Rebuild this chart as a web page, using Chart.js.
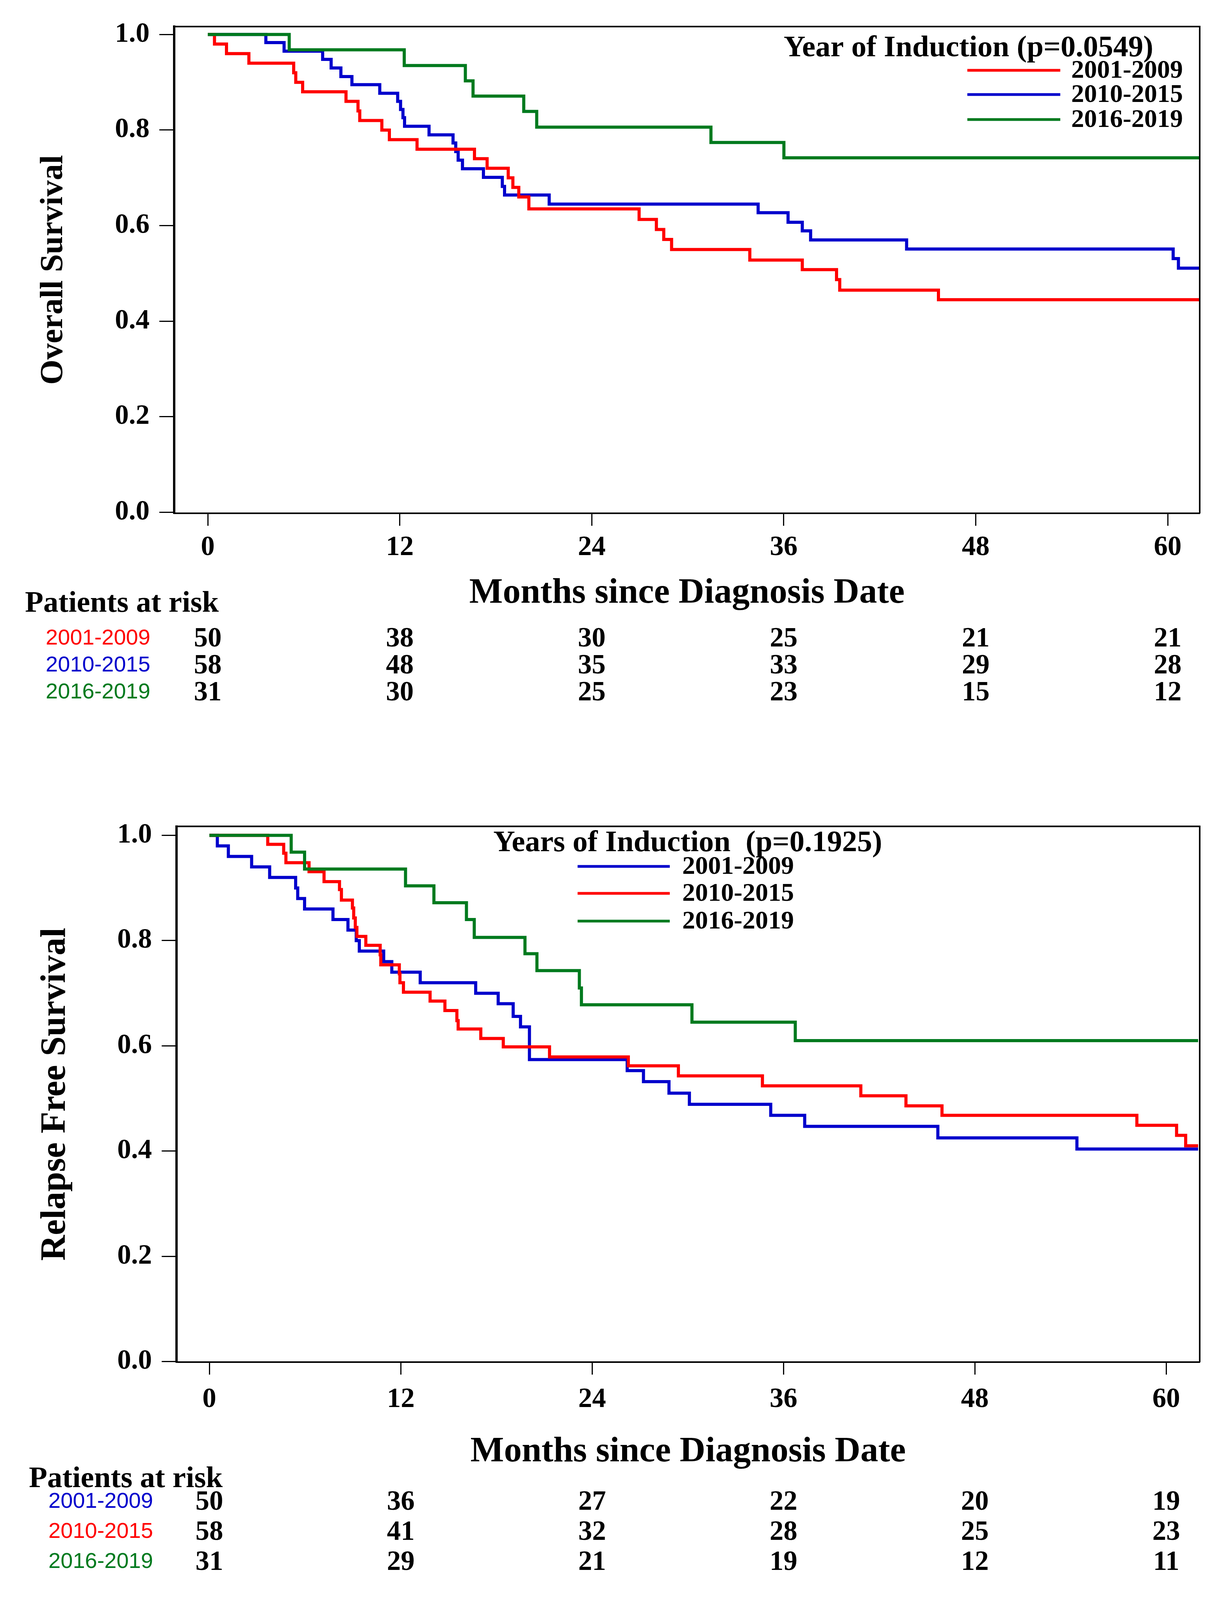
<!DOCTYPE html>
<html>
<head>
<meta charset="utf-8">
<title>Survival by year of induction</title>
<script src="https://cdn.jsdelivr.net/npm/chart.js@4.4.1/dist/chart.umd.min.js"></script>
<style>
  html, body { margin: 0; padding: 0; background: #fff; }
  body { width: 3147px; position: relative; overflow: hidden; }
  canvas { position: absolute; left: 0; }
</style>
</head>
<body>
<canvas id="osChart"></canvas>
<canvas id="rfsChart"></canvas>
<script>
const groups = ['2001-2009', '2010-2015', '2016-2019'];
const xTicks = [0, 12, 24, 36, 48, 60];
const yTicks = [0, 0.2, 0.4, 0.6, 0.8, 1.0];
const riskTimes = [0, 12, 24, 36, 48, 60];

// overall survival (months, survival after the drop)
const osMonths2001 = [0, 0.42, 1.17, 2.57, 5.37, 5.5, 5.93, 8.64, 9.39, 9.5, 10.88, 11.35, 13.08, 16.67, 17.46, 18.78, 19.07, 19.44, 20.07, 26.96, 28.04, 28.5, 28.99, 33.88, 37.16, 39.3, 39.5, 45.67, 62];
const osSurv2001 = [1, 0.98, 0.96, 0.94, 0.92, 0.90, 0.88, 0.86, 0.84, 0.82, 0.80, 0.78, 0.76, 0.74, 0.72, 0.70, 0.68, 0.66, 0.635, 0.613, 0.592, 0.571, 0.550, 0.528, 0.508, 0.487, 0.465, 0.445, 0.445];
const osMonths2010 = [0, 3.63, 4.77, 7.18, 7.71, 8.32, 9.01, 10.75, 11.87, 12.05, 12.2, 12.3, 13.83, 15.33, 15.5, 15.65, 15.92, 17.23, 18.41, 18.55, 21.34, 34.4, 36.27, 37.16, 37.68, 43.68, 60.34, 60.67, 62];
const osSurv2010 = [1, 0.983, 0.965, 0.948, 0.930, 0.912, 0.895, 0.877, 0.860, 0.843, 0.826, 0.808, 0.790, 0.773, 0.755, 0.737, 0.719, 0.701, 0.682, 0.664, 0.645, 0.627, 0.607, 0.589, 0.570, 0.551, 0.531, 0.511, 0.511];
const osMonths2016 = [0, 5.09, 12.28, 16.1, 16.58, 19.75, 20.56, 31.45, 36.01, 62];
const osSurv2016 = [1, 0.968, 0.935, 0.903, 0.871, 0.839, 0.806, 0.774, 0.742, 0.742];

// relapse free survival
const rfsMonths2001 = [0, 0.5, 1.19, 2.65, 3.78, 5.41, 5.54, 5.97, 7.75, 8.69, 9.21, 9.4, 10.93, 11.44, 13.22, 16.7, 18.11, 19.05, 19.51, 20.07, 26.2, 27.22, 28.82, 30.1, 35.2, 37.33, 45.68, 54.4, 62];
const rfsSurv2001 = [1, 0.98, 0.96, 0.94, 0.92, 0.90, 0.88, 0.86, 0.84, 0.82, 0.80, 0.78, 0.76, 0.74, 0.72, 0.70, 0.68, 0.656, 0.636, 0.574, 0.553, 0.532, 0.510, 0.489, 0.468, 0.447, 0.425, 0.404, 0.404];
const rfsMonths2010 = [0, 3.66, 4.66, 4.8, 6.25, 7.19, 8.16, 8.28, 8.97, 9.05, 9.15, 9.25, 9.81, 10.71, 10.75, 11.91, 11.95, 12.17, 13.84, 14.77, 15.52, 15.6, 17.02, 18.43, 21.33, 26.27, 29.41, 34.68, 40.85, 43.68, 45.94, 58.16, 60.65, 61.22, 62];
const rfsSurv2010 = [1, 0.983, 0.966, 0.948, 0.931, 0.912, 0.897, 0.877, 0.862, 0.843, 0.825, 0.808, 0.791, 0.773, 0.754, 0.737, 0.72, 0.702, 0.685, 0.667, 0.648, 0.632, 0.614, 0.598, 0.579, 0.562, 0.543, 0.524, 0.505, 0.486, 0.468, 0.449, 0.430, 0.410, 0.410];
const rfsMonths2016 = [0, 5.13, 5.97, 12.3, 14.08, 16.12, 16.61, 19.79, 20.54, 23.2, 23.33, 30.26, 36.74, 62];
const rfsSurv2016 = [1, 0.968, 0.936, 0.904, 0.872, 0.840, 0.806, 0.775, 0.743, 0.710, 0.678, 0.645, 0.610, 0.610];

// patients at risk at 0, 12, 24, 36, 48, 60 months
const osRisk2001 = [50, 38, 30, 25, 21, 21];
const osRisk2010 = [58, 48, 35, 33, 29, 28];
const osRisk2016 = [31, 30, 25, 23, 15, 12];
const rfsRisk2001 = [50, 36, 27, 22, 20, 19];
const rfsRisk2010 = [58, 41, 32, 28, 25, 23];
const rfsRisk2016 = [31, 29, 21, 19, 12, 11];

const RED = '#ff0000';
const BLUE = '#0000cc';
const GREEN = '#007a1e';
const SERIF = '"Liberation Serif", "Times New Roman", serif';
const SANS = '"Liberation Sans", Arial, sans-serif';

// the figure is laid out for 4639px of height; squeeze it vertically
// if the window is shorter so the whole page stays in view
const PAGE_H = 4639;
const ky = Math.min(1, (window.innerHeight || PAGE_H) / PAGE_H);
const kf = 1 - (1 - ky) * 0.3;
const Y = (v) => Math.round(v * ky);
const F = (s) => Math.round(s * kf);

function toPoints(months, surv) {
  return months.map((m, i) => ({ x: m, y: surv[i] }));
}

function stepLine(label, months, surv, color, order) {
  return {
    label: label,
    data: toPoints(months, surv),
    borderColor: color,
    backgroundColor: color,
    borderWidth: 8,
    stepped: 'before',
    pointRadius: 0,
    fill: false,
    order: order,
  };
}

// frame, legend, x title and the at-risk table
const kmExtras = {
  id: 'kmExtras',
  afterDraw(chart, args, o) {
    const ctx = chart.ctx;
    const a = chart.chartArea;
    const x = chart.scales.x;
    ctx.save();

    ctx.strokeStyle = '#000';
    ctx.lineWidth = 4;
    ctx.beginPath();
    ctx.moveTo(a.left, a.top);
    ctx.lineTo(a.right, a.top);
    ctx.lineTo(a.right, a.bottom);
    ctx.stroke();

    // legend
    ctx.fillStyle = '#000';
    ctx.textAlign = 'center';
    ctx.textBaseline = 'alphabetic';
    ctx.font = 'bold ' + F(80) + 'px ' + SERIF;
    ctx.fillText(o.legendTitle, o.legendTitleX, Y(o.legendTitleY));
    ctx.textAlign = 'left';
    ctx.font = 'bold ' + F(68) + 'px ' + SERIF;
    ctx.textBaseline = 'middle';
    chart.data.datasets.forEach((ds, i) => {
      const y = Y(o.legendRowsY[i]);
      ctx.strokeStyle = ds.borderColor;
      ctx.lineWidth = 7;
      ctx.beginPath();
      ctx.moveTo(o.legendLineX[0], y);
      ctx.lineTo(o.legendLineX[1], y);
      ctx.stroke();
      ctx.fillText(ds.label, o.legendTextX, y + 2);
    });

    // x axis title
    ctx.textAlign = 'center';
    ctx.textBaseline = 'alphabetic';
    ctx.font = 'bold ' + F(94) + 'px ' + SERIF;
    ctx.fillText('Months since Diagnosis Date', (a.left + a.right) / 2, Y(o.xTitleY));

    // patients at risk
    ctx.textAlign = 'left';
    ctx.font = 'bold ' + F(80) + 'px ' + SERIF;
    ctx.fillText('Patients at risk', o.riskTitleX, Y(o.riskTitleY));
    ctx.textBaseline = 'middle';
    chart.data.datasets.forEach((ds, i) => {
      const y = Y(o.riskRowsY[i]);
      ctx.textAlign = 'center';
      ctx.fillStyle = ds.borderColor;
      ctx.font = F(58) + 'px ' + SANS;
      ctx.fillText(ds.label, o.riskLabelX, y);
      ctx.fillStyle = '#000';
      ctx.font = 'bold ' + F(74) + 'px ' + SERIF;
      o.risk[i].forEach((n, j) => {
        ctx.fillText(String(n), x.getPixelForValue(riskTimes[j]), y + 2);
      });
    });
    ctx.restore();
  }
};

function renderChart(canvasId, pageTop, pageBottom, datasets, yTitle, c) {
  const canvas = document.getElementById(canvasId);
  const h = Y(pageBottom) - Y(pageTop);
  canvas.width = 3147;
  canvas.height = h;
  canvas.style.top = Y(pageTop) + 'px';

  const tickFont = F(74);
  const titleFont = F(c.yTitleSize);
  const xTickLen = Y(36);
  // centre of the x tick labels sits c.xLabelOffset below the axis
  const xTickPad = Math.round(Y(c.xLabelOffset) - xTickLen - tickFont * 0.6 + 2);

  return new Chart(canvas, {
    type: 'line',
    data: { datasets: datasets },
    plugins: [kmExtras],
    options: {
      responsive: false,
      animation: false,
      devicePixelRatio: 1,
      layout: { padding: { left: 0, top: Y(c.top), right: 3147 - c.right, bottom: 0 } },
      plugins: {
        legend: { display: false },
        tooltip: { enabled: false },
        kmExtras: c.extras,
      },
      scales: {
        x: {
          type: 'linear',
          min: c.xMin,
          max: c.xMax,
          afterFit: (s) => { s.height = h - Y(c.bottom); },
          afterBuildTicks: (s) => { s.ticks = xTicks.map(v => ({ value: v })); },
          ticks: {
            autoSkip: false,
            maxRotation: 0,
            padding: xTickPad,
            color: '#000',
            font: { family: SERIF, size: tickFont, weight: 'bold' },
          },
          grid: { drawOnChartArea: false, drawTicks: true, tickLength: xTickLen, tickWidth: 3, tickColor: '#000' },
          border: { display: true, color: '#000', width: 4 },
        },
        y: {
          type: 'linear',
          min: c.yMin,
          max: c.yMax,
          afterFit: (s) => { s.width = c.left; },
          afterBuildTicks: (s) => { s.ticks = yTicks.map(v => ({ value: v })); },
          ticks: {
            padding: 25,
            color: '#000',
            font: { family: SERIF, size: tickFont, weight: 'bold' },
            callback: (v) => Number(v).toFixed(1),
          },
          grid: { drawOnChartArea: false, drawTicks: true, tickLength: 38, tickWidth: 3, tickColor: '#000' },
          border: { display: true, color: '#000', width: 6 },
          title: {
            display: true,
            text: yTitle,
            color: '#000',
            font: { family: SERIF, size: titleFont, weight: 'bold' },
            padding: { top: Math.round(c.yTitleX - titleFont * 0.6), bottom: 0 },
          },
        },
      },
    },
  });
}

document.body.style.height = Y(PAGE_H) + 'px';

renderChart('osChart', 0, 2320, [
  stepLine(groups[0], osMonths2001, osSurv2001, RED, 1),
  stepLine(groups[1], osMonths2010, osSurv2010, BLUE, 2),
  stepLine(groups[2], osMonths2016, osSurv2016, GREEN, 0),
], 'Overall Survival', {
  top: 77, bottom: 1488, left: 446, right: 3072,
  xMin: -2.1, xMax: 62.0, yMin: -0.002, yMax: 1.0166,
  xLabelOffset: 98, yTitleSize: 86, yTitleX: 138,
  extras: {
    legendTitle: 'Year of Induction (p=0.0549)', legendTitleX: 2480, legendTitleY: 163,
    legendLineX: [2477, 2715], legendTextX: 2743, legendRowsY: [204, 274, 346],
    xTitleY: 1747,
    riskTitleX: 64, riskTitleY: 1774, riskLabelX: 251, riskRowsY: [1852, 1930, 2008],
    risk: [osRisk2001, osRisk2010, osRisk2016],
  },
});

renderChart('rfsChart', 2320, PAGE_H, [
  stepLine(groups[0], rfsMonths2001, rfsSurv2001, BLUE, 2),
  stepLine(groups[1], rfsMonths2010, rfsSurv2010, RED, 1),
  stepLine(groups[2], rfsMonths2016, rfsSurv2016, GREEN, 0),
], 'Relapse Free Survival', {
  top: 51, bottom: 1630, left: 452, right: 3072,
  xMin: -2.06, xMax: 62.1, yMin: -0.001, yMax: 1.017,
  xLabelOffset: 108, yTitleSize: 94, yTitleX: 143,
  extras: {
    legendTitle: 'Years of Induction  (p=0.1925)', legendTitleX: 1761, legendTitleY: 148,
    legendLineX: [1479, 1715], legendTextX: 1747, legendRowsY: [193, 271, 351],
    xTitleY: 1918,
    riskTitleX: 74, riskTitleY: 1992, riskLabelX: 258, riskRowsY: [2035, 2122, 2210],
    risk: [rfsRisk2001, rfsRisk2010, rfsRisk2016],
  },
});
</script>
</body>
</html>
